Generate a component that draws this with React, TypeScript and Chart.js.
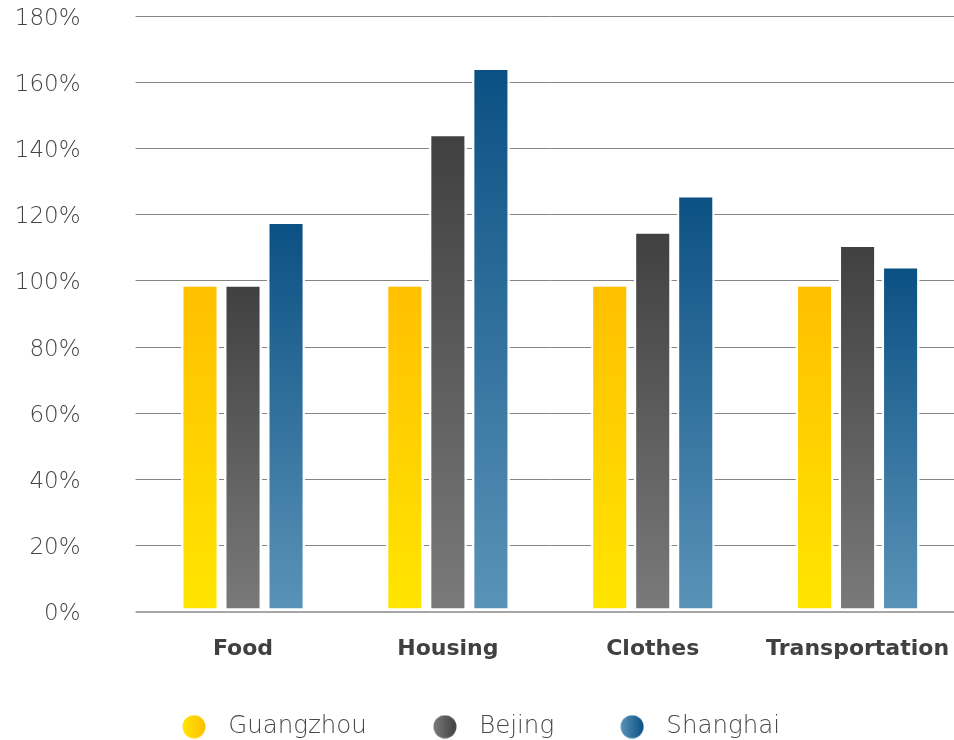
import React, { useEffect, useRef } from "react";
import { Chart, registerables } from "chart.js";

Chart.register(...registerables);

const categories = ["Food", "Housing", "Clothes", "Transportation"];
const seriesNames = ["Guangzhou", "Bejing", "Shanghai"];
const guangzhou = [99, 99, 99, 99];
const bejing = [99, 144.5, 115, 111];
const shanghai = [118, 164.5, 126, 104.5];
const yTicks = [0, 20, 40, 60, 80, 100, 120, 140, 160, 180];

// gradient stops: [top/dark, bottom/light]
const palettes: [string, string][] = [
  ["#FFBF00", "#FFE500"],
  ["#404040", "#7A7A7A"],
  ["#0B5083", "#5A93B8"],
];

// legend marker image: circle drawn right of the image centre
function makeLegendImage(dark: string, light: string): HTMLCanvasElement {
  const c = document.createElement("canvas");
  const w = 68;
  const h = 24;
  const r = 11.5;
  const cx = 56;
  const cy = h / 2;
  c.width = w;
  c.height = h;
  const g = c.getContext("2d")!;
  const grad = g.createLinearGradient(cx - r, 0, cx + r, 0);
  grad.addColorStop(0, light);
  grad.addColorStop(1, dark);
  g.fillStyle = grad;
  g.beginPath();
  g.arc(cx, cy, r, 0, Math.PI * 2);
  g.fill();
  return c;
}

export default function App() {
  const ref = useRef<HTMLCanvasElement | null>(null);

  useEffect(() => {
    if (!ref.current) return;
    const series = [guangzhou, bejing, shanghai];
    const legendImgs = palettes.map(([d, l]) => makeLegendImage(d, l));

    const gradientFor = (i: number) => (ctx: any) => {
      const [dark, light] = palettes[i];
      const chart = ctx.chart;
      if (ctx.type !== "data" || !chart.chartArea || !chart.scales.y) return dark;
      const ys = chart.scales.y;
      const top = ys.getPixelForValue(ctx.raw);
      const bottom = ys.getPixelForValue(0);
      if (!isFinite(top) || !isFinite(bottom) || top === bottom) return dark;
      const g = chart.ctx.createLinearGradient(0, top, 0, bottom);
      g.addColorStop(0, dark);
      g.addColorStop(1, light);
      return g;
    };

    const chart = new Chart(ref.current, {
      type: "bar",
      data: {
        labels: categories,
        datasets: series.map((data, i) => ({
          label: seriesNames[i],
          data,
          backgroundColor: gradientFor(i),
          borderColor: "#ffffff",
          borderWidth: 2.5,
          borderSkipped: false,
          categoryPercentage: 0.63,
          barPercentage: 0.885,
        })),
      },
      options: {
        animation: false,
        responsive: false,
        devicePixelRatio: 1,
        layout: { padding: { top: 16.3, left: -52, right: 0, bottom: 0 } },
        plugins: {
          tooltip: { enabled: false },
          legend: {
            position: "bottom",
            labels: {
              usePointStyle: true,
              pointStyleWidth: 88,
              boxHeight: 24,
              padding: 12,
              color: "#484848",
              font: { family: "'DejaVu Sans'", size: 24.5, weight: "300" },
              generateLabels: (c: any) =>
                c.data.datasets.map((ds: any, i: number) => ({
                  text: ds.label,
                  pointStyle: legendImgs[i],
                  fillStyle: palettes[i][0],
                  strokeStyle: "transparent",
                  lineWidth: 0,
                  hidden: false,
                  datasetIndex: i,
                  fontColor: "#484848",
                })),
            },
          },
        },
        scales: {
          x: {
            z: 1,
            grid: { display: false, drawTicks: false },
            border: { display: true, color: "#a6a6a6", width: 2 },
            ticks: {
              padding: 24,
              color: "#404040",
              font: { family: "'DejaVu Sans'", size: 22, weight: "bold" },
            },
            afterFit: (s: any) => {
              s.height = 90.8;
              s.paddingLeft = 0;
              s.paddingRight = 0;
            },
          },
          y: {
            min: 0,
            max: 180,
            afterBuildTicks: (s: any) => {
              s.ticks = yTicks.map((v) => ({ value: v }));
            },
            grid: {
              color: (c: any) => (c.tick && c.tick.value === 0 ? "#a6a6a6" : "#858585"),
              lineWidth: (c: any) => (c.tick && c.tick.value === 0 ? 2 : 1),
              drawTicks: true,
              tickLength: 5,
            },
            border: { display: false },
            ticks: {
              padding: 55,
              labelOffset: 2.5,
              color: "#444444",
              font: { family: "'DejaVu Sans'", size: 23, weight: "300" },
              callback: (v: any) => `${v}%`,
            },
            afterFit: (s: any) => {
              s.width = 192.6;
              s.paddingTop = 0;
              s.paddingBottom = 0;
            },
          },
        },
      },
    });
    return () => chart.destroy();
  }, []);

  return (
    <div
      style={{
        position: "absolute",
        left: 0,
        top: 0,
        width: 954,
        height: 740,
        overflow: "hidden",
        background: "#ffffff",
      }}
    >
      <canvas ref={ref} width={960} height={749} style={{ display: "block" }} />
    </div>
  );
}
